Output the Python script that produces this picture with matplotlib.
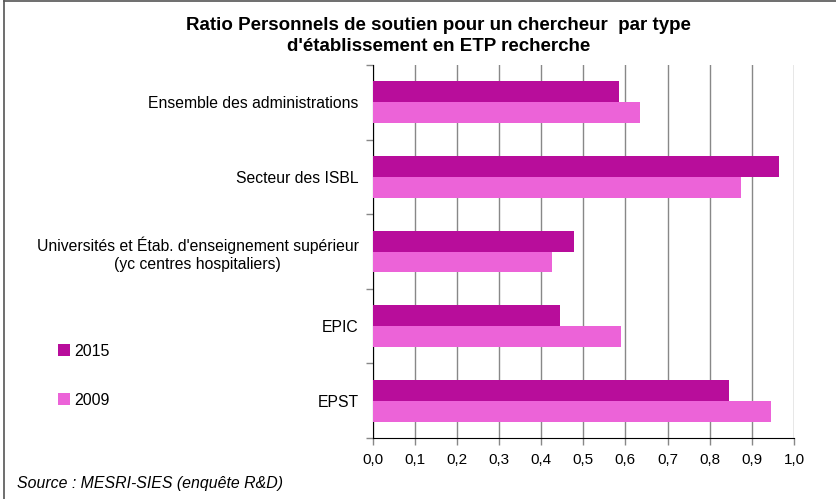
import matplotlib
matplotlib.use("Agg")
import matplotlib.pyplot as plt
from matplotlib.patches import Patch
from matplotlib.lines import Line2D
import numpy as np

plt.rcParams['font.family'] = ['Liberation Sans', 'DejaVu Sans']

categories = [
    "Ensemble des administrations",
    "Secteur des ISBL",
    "Universités et Étab. d'enseignement supérieur\n(yc centres hospitaliers)",
    "EPIC",
    "EPST",
]
values_2015 = [0.584, 0.964, 0.477, 0.445, 0.845]
values_2009 = [0.635, 0.874, 0.426, 0.590, 0.946]
series_labels = ["2015", "2009"]
colors = ["#B80D9B", "#EC63D8"]
xticks = [0.0, 0.1, 0.2, 0.3, 0.4, 0.5, 0.6, 0.7, 0.8, 0.9, 1.0]
xtick_labels = ["0,0", "0,1", "0,2", "0,3", "0,4", "0,5", "0,6", "0,7", "0,8", "0,9", "1,0"]
title = "Ratio Personnels de soutien pour un chercheur  par type\nd'établissement en ETP recherche"
source = "Source : MESRI-SIES (enquête R&D)"

fig = plt.figure(figsize=(8.36, 4.99), dpi=100)
ax = fig.add_axes([0.4456, 0.1222, 0.9498 - 0.4456, 0.8697 - 0.1222])

y = np.arange(len(categories))
h = 0.28
ax.barh(y - h / 2, values_2015, height=h, color=colors[0], zorder=3)
ax.barh(y + h / 2, values_2009, height=h, color=colors[1], zorder=3)

ax.set_ylim(len(categories) - 0.5, -0.5)
ax.set_xlim(0, 1.0)
ax.set_xticks(xticks)
ax.set_xticklabels(xtick_labels, fontsize=11)
ax.set_yticks(y)
ax.set_yticklabels(categories, fontsize=11.3)
ax.set_yticks(np.arange(-0.5, len(categories), 1.0), minor=True)
ax.tick_params(axis='y', which='minor', length=5, color='#888888', width=1)
ax.tick_params(axis='x', length=5, color='#888888', width=1, pad=6)

ax.grid(axis='x', color='#888888', linewidth=1.0, zorder=0)
ax.set_axisbelow(True)
for s in ['top', 'right']:
    ax.spines[s].set_visible(False)
ax.spines['left'].set_color('black')
ax.spines['bottom'].set_color('black')

for lab in ax.get_yticklabels():
    lab.set_multialignment('center')
    lab.set_horizontalalignment('right')
ax.tick_params(axis='y', which='major', length=0, pad=10)

fig.text(0.5245, 0.89, title, ha='center', va='bottom', fontsize=13.5, fontweight='bold',
         linespacing=1.3)

handles = [Patch(facecolor=colors[0]), Patch(facecolor=colors[1])]
fig.legend(handles, series_labels, loc='center left', bbox_to_anchor=(0.052, 0.247),
           frameon=False, fontsize=11.5, handlelength=0.75, handleheight=0.75,
           handletextpad=0.3, labelspacing=2.15)

fig.text(0.02, 0.032, source, ha='left', va='center', fontsize=11.4, style='italic')

fig.add_artist(Line2D([0.005, 0.005], [0.0, 0.998], transform=fig.transFigure, color='#555555', lw=1.2))
fig.add_artist(Line2D([0.005, 1.0], [0.997, 0.997], transform=fig.transFigure, color='#555555', lw=1.2))

fig.savefig("out.png", dpi=100)
